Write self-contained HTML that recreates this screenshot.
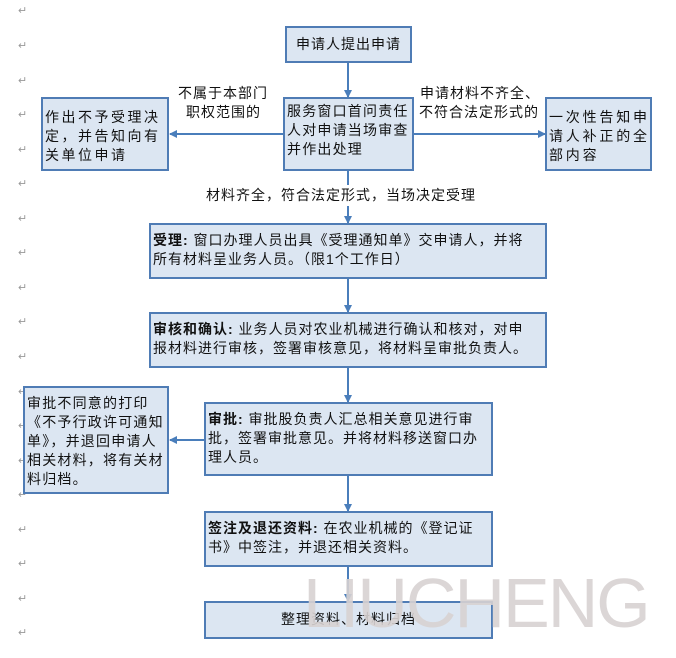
<!DOCTYPE html>
<html><head><meta charset="utf-8"><style>
body{margin:0;width:676px;height:658px;background:#fff;position:relative;overflow:hidden;font-family:"Liberation Sans","Noto Sans CJK SC",sans-serif;font-size:14px;letter-spacing:1px;color:#111}
.b{position:absolute;box-sizing:border-box;background:#dce6f2;border:2px solid #4f7cb5;padding:3px 2px;line-height:19px;white-space:nowrap;overflow:hidden}
.t{position:absolute;line-height:19px;white-space:nowrap}
.pm{position:absolute;left:18px;color:#999;font-size:11px;letter-spacing:0}
b{font-weight:bold}
</style></head><body>
<div class="pm" style="top:4px">↵</div><div class="pm" style="top:39px">↵</div><div class="pm" style="top:74px">↵</div><div class="pm" style="top:108px">↵</div><div class="pm" style="top:143px">↵</div><div class="pm" style="top:177px">↵</div><div class="pm" style="top:212px">↵</div><div class="pm" style="top:246px">↵</div><div class="pm" style="top:281px">↵</div><div class="pm" style="top:315px">↵</div><div class="pm" style="top:350px">↵</div><div class="pm" style="top:385px">↵</div><div class="pm" style="top:419px">↵</div><div class="pm" style="top:454px">↵</div><div class="pm" style="top:488px">↵</div><div class="pm" style="top:523px">↵</div><div class="pm" style="top:557px">↵</div><div class="pm" style="top:592px">↵</div><div class="pm" style="top:626px">↵</div>
<svg style="position:absolute;left:0;top:0" width="676" height="658">
<defs><marker id="a" markerWidth="8" markerHeight="8" refX="7" refY="4" orient="auto" markerUnits="userSpaceOnUse"><path d="M0,0L8,4L0,8z" fill="#4a7ebb"/></marker></defs>
<g stroke="#4a7ebb" stroke-width="2" fill="none">
<line x1="348" y1="62" x2="348" y2="97" marker-end="url(#a)"/>
<line x1="283" y1="134" x2="170" y2="134" marker-end="url(#a)"/>
<line x1="414" y1="134" x2="545" y2="134" marker-end="url(#a)"/>
<line x1="348" y1="170" x2="348" y2="185"/>
<line x1="348" y1="206" x2="348" y2="223" marker-end="url(#a)"/>
<line x1="348" y1="278" x2="348" y2="312" marker-end="url(#a)"/>
<line x1="348" y1="368" x2="348" y2="402" marker-end="url(#a)"/>
<line x1="204" y1="440" x2="170" y2="440" marker-end="url(#a)"/>
<line x1="348" y1="476" x2="348" y2="511" marker-end="url(#a)"/>
<line x1="348" y1="566" x2="348" y2="601" marker-end="url(#a)"/>
</g></svg>
<div class="b" style="left:285px;top:26px;width:127px;height:37px;text-align:center;padding-top:7px">申请人提出申请</div>
<div class="b" style="left:283px;top:97px;width:131px;height:74px;letter-spacing:1.2px">服务窗口首问责任<br>人对申请当场审查<br>并作出处理</div>
<div class="b" style="left:41px;top:97px;width:128px;height:74px;letter-spacing:2.5px;padding-top:9px">作出不予受理决<br>定，并告知向有<br>关单位申请</div>
<div class="b" style="left:545px;top:97px;width:107px;height:74px;letter-spacing:2.8px;padding-top:9px">一次性告知申<br>请人补正的全<br>部内容</div>
<div class="t" style="left:178px;top:84px">不属于本部门</div>
<div class="t" style="left:186px;top:103px">职权范围的</div>
<div class="t" style="left:420px;top:84px">申请材料不齐全、</div>
<div class="t" style="left:419px;top:103px">不符合法定形式的</div>
<div class="t" style="left:206px;top:186px">材料齐全，符合法定形式，当场决定受理</div>
<div class="b" style="left:149px;top:223px;width:398px;height:56px;padding-top:6px"><b>受理:</b> 窗口办理人员出具《受理通知单》交申请人，并将<br>所有材料呈业务人员。（限1个工作日）</div>
<div class="b" style="left:149px;top:312px;width:398px;height:56px;padding-top:6px"><b>审核和确认:</b> 业务人员对农业机械进行确认和核对，对申<br>报材料进行审核，签署审核意见，将材料呈审批负责人。</div>
<div class="b" style="left:204px;top:402px;width:289px;height:74px;padding-top:6px"><b>审批:</b> 审批股负责人汇总相关意见进行审<br>批，签署审批意见。并将材料移送窗口办<br>理人员。</div>
<div class="b" style="left:23px;top:386px;width:146px;height:108px;padding-top:6px;letter-spacing:1.2px">审批不同意的打印<br>《不予行政许可通知<br>单》，并退回申请人<br>相关材料，将有关材<br>料归档。</div>
<div class="b" style="left:204px;top:511px;width:289px;height:56px;padding-top:6px"><b>签注及退还资料:</b> 在农业机械的《登记证<br>书》中签注，并退还相关资料。</div>
<div class="b" style="left:204px;top:601px;width:289px;height:38px;text-align:center;padding-top:7px">整理资料、材料归档</div>
<div style="position:absolute;left:303px;top:568px;font-family:'Liberation Sans',sans-serif;font-size:70px;color:rgba(215,210,210,0.9);line-height:70px;letter-spacing:-2px">LIUCHENG</div>
</body></html>
